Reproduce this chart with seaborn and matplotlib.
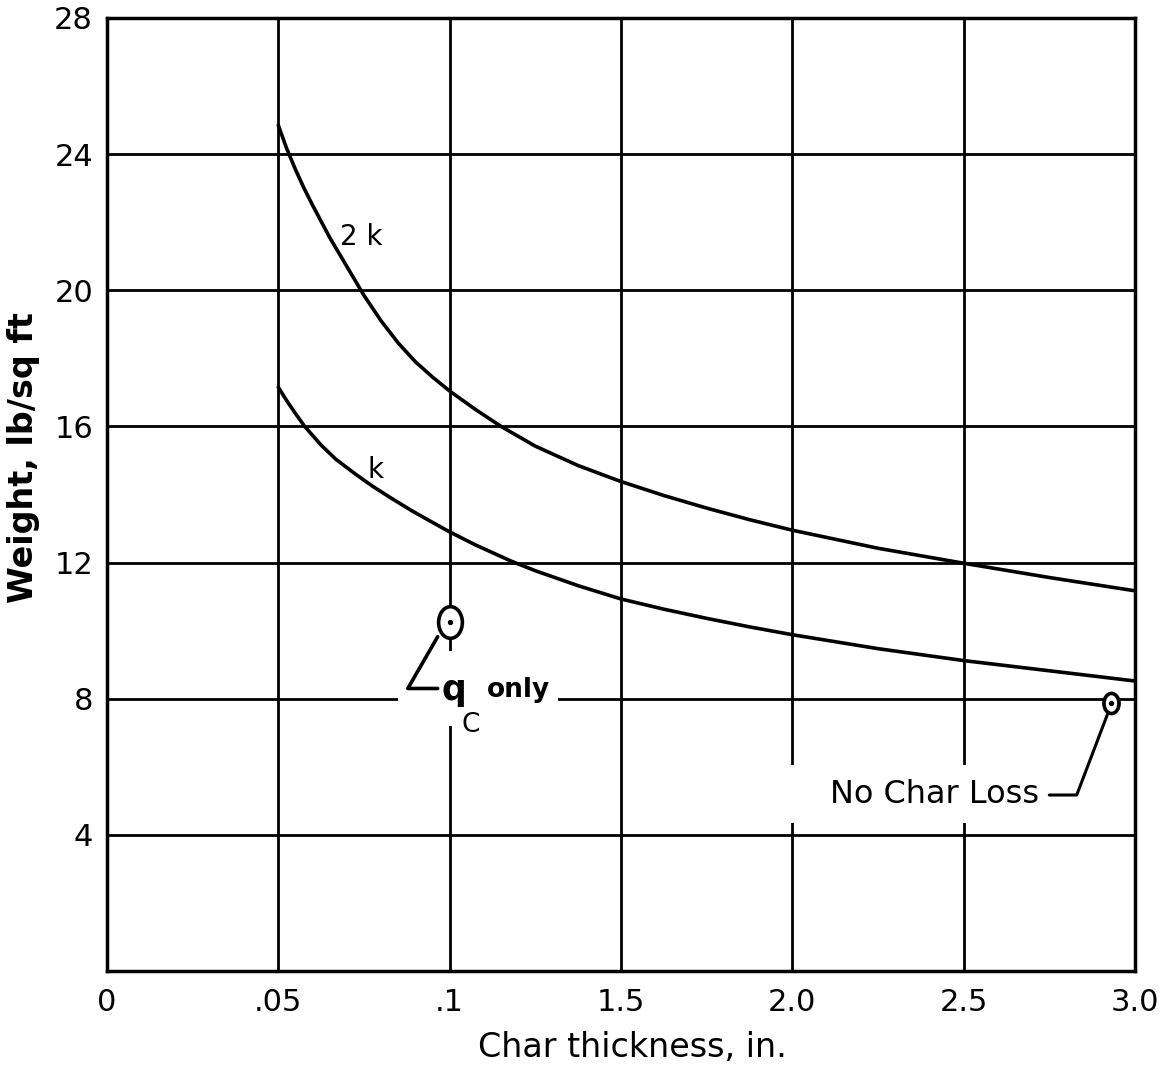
import numpy as np
import pandas as pd
import matplotlib
matplotlib.use("Agg")
import matplotlib.pyplot as plt
import seaborn as sns
from matplotlib.path import Path
from matplotlib.transforms import Affine2D
from matplotlib.patches import Rectangle

#%% data (x is the slot on the evenly spaced char thickness scale)
x_labels = ["0", ".05", ".1", "1.5", "2.0", "2.5", "3.0"]
y_ticks = [0, 4, 8, 12, 16, 20, 24, 28]

x_2k = [1.0, 1.05, 1.1, 1.15, 1.2, 1.3, 1.4, 1.5, 1.6, 1.7, 1.8, 1.9, 2.0, 2.15, 2.3,
        2.5, 2.75, 3.0, 3.25, 3.5, 3.75, 4.0, 4.5, 5.0, 5.5, 6.0]
w_2k = [24.85, 24.15, 23.55, 23.0, 22.5, 21.55, 20.7, 19.85, 19.1, 18.45, 17.9, 17.45, 17.04, 16.5, 16.0,
        15.42, 14.85, 14.38, 13.97, 13.6, 13.26, 12.95, 12.42, 11.98, 11.56, 11.17]

x_k = [1.0, 1.05, 1.1, 1.154, 1.25, 1.337, 1.45, 1.548, 1.65, 1.78, 1.9, 2.0, 2.15, 2.36,
       2.5, 2.75, 3.0, 3.25, 3.5, 3.75, 4.0, 4.5, 5.0, 5.5, 6.0]
w_k = [17.15, 16.75, 16.38, 16.0, 15.45, 15.03, 14.6, 14.25, 13.92, 13.52, 13.18, 12.9, 12.52, 12.04,
       11.76, 11.32, 10.93, 10.63, 10.36, 10.11, 9.88, 9.47, 9.12, 8.82, 8.52]

# single points
pt_labels = ["q_c only", "No Char Loss"]
pt_x = [2.0, 5.86]
pt_w = [10.25, 7.87]
pt_size = [520, 210]

#%% style
sns.set_style("white")
plt.rcParams['font.family'] = ['DejaVu Sans']
plt.rcParams['text.color'] = 'black'
plt.rcParams['axes.labelcolor'] = 'black'

fig = plt.figure(figsize=(11.69, 10.71), dpi=100)
ax = fig.add_axes([0.0915, 0.0934, 0.8794, 0.8898])

ax.set_xlim(0, 6)
ax.set_ylim(0, 28)
ax.grid(True, color='black', lw=2)
ax.set_axisbelow(True)
for s in ax.spines.values():
    s.set_color('black')
    s.set_linewidth(2.5)

# white gaps in the grid behind the labels
ax.add_patch(Rectangle((1.70, 7.2), 0.93, 2.2, facecolor='white', edgecolor='none', zorder=1))
ax.add_patch(Rectangle((3.93, 4.35), 1.56, 1.7, facecolor='white', edgecolor='none', zorder=1))

#%% curves
sns.lineplot(x=x_2k, y=w_2k, ax=ax, color='black', lw=2.6, zorder=3)
sns.lineplot(x=x_k, y=w_k, ax=ax, color='black', lw=2.6, zorder=3)

ax.text(1.36, 21.33, "2 k", fontsize=20, ha='left', va='baseline')
ax.text(1.52, 14.48, "k", fontsize=20, ha='left', va='baseline')

#%% point markers (tall ellipses with a dot)
ell = Path.unit_circle().transformed(Affine2D().scale(0.75, 1.0))
pts = pd.DataFrame({'x': pt_x, 'w': pt_w, 's': pt_size, 'lab': pt_labels})
for _, r in pts.iterrows():
    ax.scatter(r['x'], r['w'], s=r['s'], marker=ell, facecolor='white',
               edgecolor='black', linewidth=2.6, zorder=4)
    ax.scatter(r['x'], r['w'], s=8, color='black', zorder=5)

# leaders
ax.plot([1.93, 1.756, 1.93], [9.82, 8.3, 8.3], color='black', lw=2.6, zorder=3)
ax.plot([5.50, 5.66, 5.84], [5.17, 5.17, 7.55], color='black', lw=2.2, zorder=3)

ax.text(1.95, 7.96, "q", fontsize=25, fontweight='bold', ha='left', va='baseline', zorder=4)
ax.text(2.07, 7.02, "C", fontsize=19, ha='left', va='baseline', zorder=4)
ax.text(2.22, 8.05, "only", fontsize=19, fontweight='bold', ha='left', va='baseline', zorder=4)
ax.text(4.22, 4.94, "No Char Loss", fontsize=23, ha='left', va='baseline', zorder=4)

#%% axes labels
ax.set_xticks(range(len(x_labels)))
ax.set_xticklabels(x_labels)
ax.set_yticks(y_ticks)
ax.set_yticklabels([""] + [str(v) for v in y_ticks[1:]])
ax.tick_params(axis='both', length=0, labelsize=22, colors='black')
ax.tick_params(axis='x', pad=12)
ax.tick_params(axis='y', pad=10)

ax.set_xlabel("Char thickness, in.", fontsize=24, va='center')
ax.set_ylabel("Weight, lb/sq ft", fontsize=24, fontweight='bold', va='center')
ax.xaxis.set_label_coords(0.511, -0.080)
ax.yaxis.set_label_coords(-0.081, 0.539)

plt.savefig("out.png", dpi=100)
